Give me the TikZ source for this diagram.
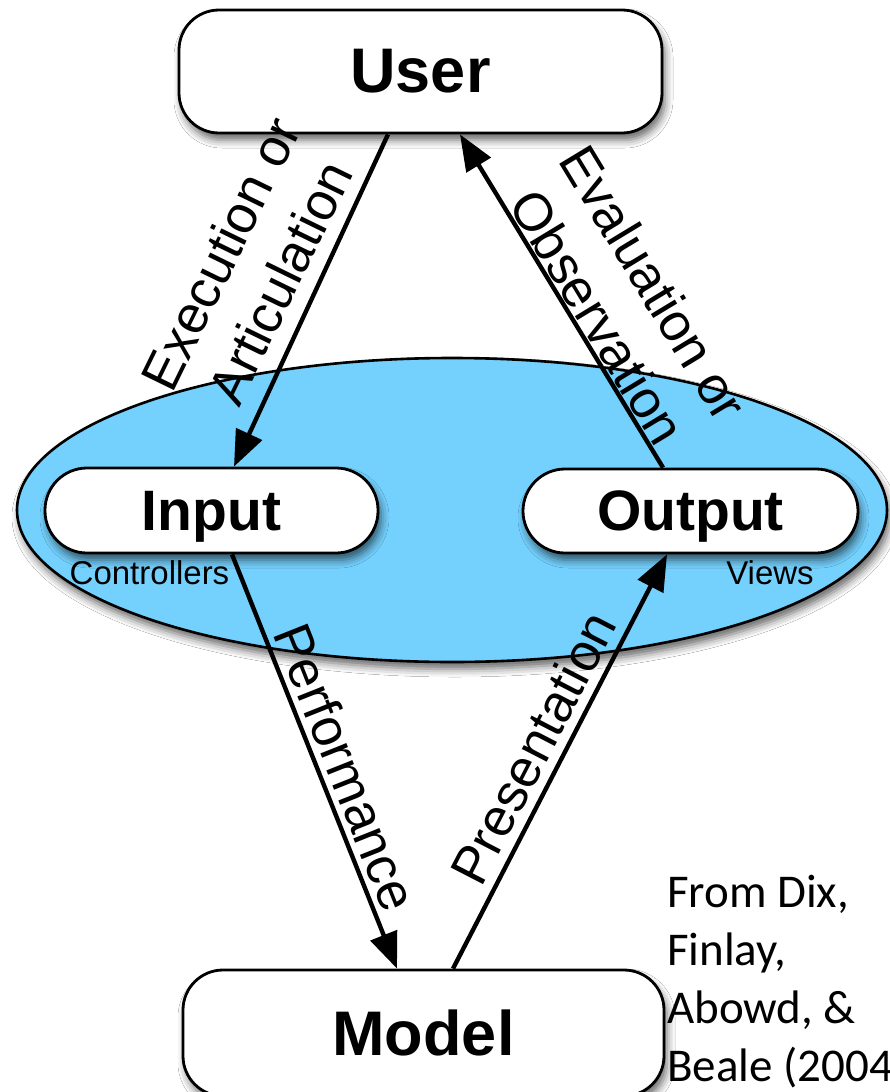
\documentclass[tikz,border=0pt]{standalone}
\usepackage{fontspec}
\setmainfont{Liberation Sans}
\newfontfamily\citefont{Carlito}
\usetikzlibrary{shapes.geometric,arrows.meta,shadows.blur}
\definecolor{bandblue}{RGB}{116,208,253}
\begin{document}
\begin{tikzpicture}[x=1pt,y=-1pt,
  shade box/.style={blur shadow={shadow xshift=3pt, shadow yshift=-7pt, shadow blur radius=8pt, shadow opacity=60}},
  bigbox/.style={draw=black, line width=2.8pt, fill=white, rounded corners=40pt, inner sep=0pt,
    font=\fontsize{63}{70}\selectfont\bfseries, shade box},
  pill/.style={draw=black, line width=2.8pt, fill=white, rounded corners=42pt, inner sep=0pt,
    text depth=0pt, font=\fontsize{57}{64}\selectfont\bfseries, shade box},
  band/.style={ellipse, draw=black, line width=2.6pt, fill=bandblue, inner sep=0pt, shade box},
  conn/.style={line width=4.4pt, -{Triangle[length=36pt,width=28pt]}},
  lab/.style={font=\fontsize{53}{66}\selectfont, align=center, inner sep=0pt},
  sub/.style={font=\fontsize{33}{38}\selectfont, inner sep=0pt},
  cite/.style={font=\citefont\fontsize{47}{58}\selectfont, align=left, inner sep=0pt}
]
\useasboundingbox (0,0) rectangle (890,1092);
\fill[white] (0,0) rectangle (890,1092);

% blue band
\node[band, minimum width=870pt, minimum height=304pt] (band) at (452,510) {};

% boxes
\node[bigbox, minimum width=483pt, minimum height=123pt] (user) at (420.5,71.5) {User};
\node[bigbox, minimum width=481pt, minimum height=126pt] (model) at (423.5,1033) {Model};
\node[pill, minimum width=333pt, minimum height=85pt] (input) at (211.5,510.5) {Input};
\node[pill, minimum width=335pt, minimum height=84pt] (output) at (690.5,511) {Output};

% small labels
\node[sub] (ctl) at (149.5,573) {Controllers};
\node[sub] (views) at (770,573) {Views};

% connectors
\draw[conn] ([xshift=-32.5pt]user.south) -- ([xshift=22.5pt]input.north);
\draw[conn] ([xshift=20.5pt]input.south) -- ([xshift=-26.5pt]model.north);
\draw[conn] ([xshift=29.5pt]model.north) -- ([xshift=-23.5pt]output.south);
\draw[conn] ([xshift=-27.5pt]output.north) -- ([xshift=39.5pt]user.south);

% connector labels
\node[lab, rotate=64] (lexec) at (250,268) {Execution or\\Articulation};
\node[lab, rotate=-58.8] (leval) at (626,300) {Evaluation or\\Observation};
\node[lab, rotate=-68.3] (lperf) at (346,767) {Performance};
\node[lab, rotate=62.7] (lpres) at (533,748) {Presentation};

% citation
\node[cite, anchor=north west] (cite) at (667,875) {From Dix,\\Finlay,\\Abowd, \&\\Beale (2004};
\end{tikzpicture}
\end{document}
